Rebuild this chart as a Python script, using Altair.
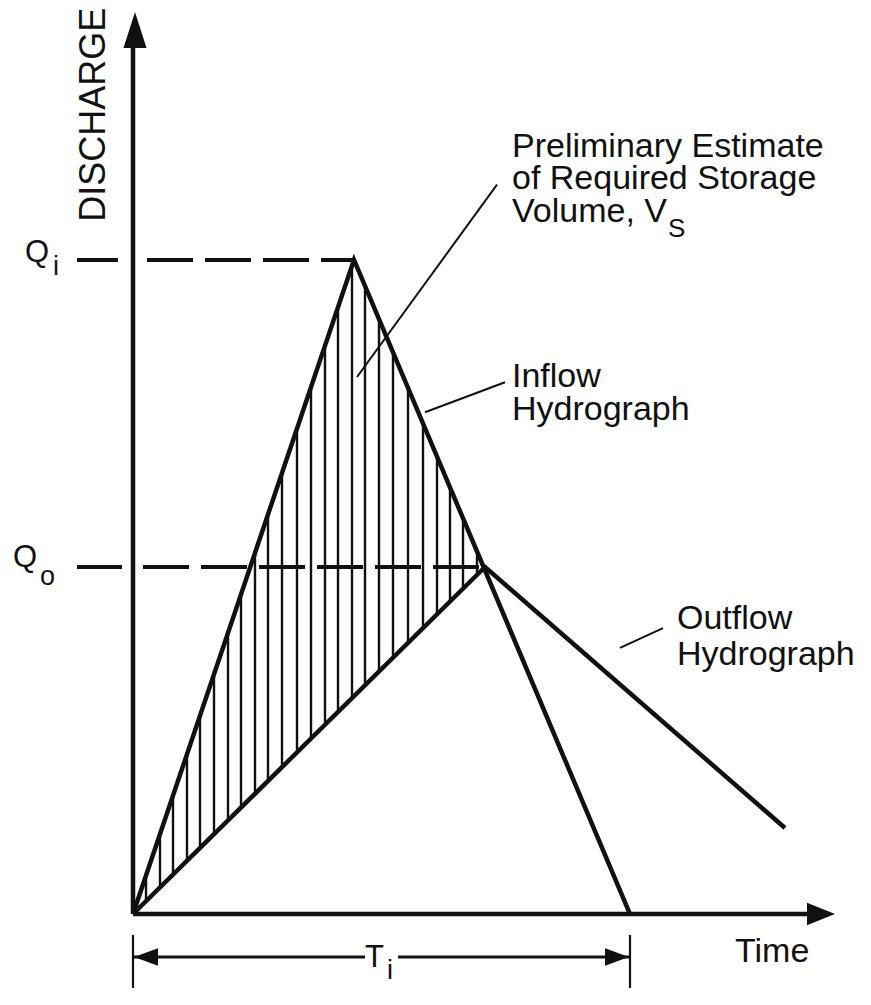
import altair as alt
import pandas as pd
import numpy as np

# ---------------- data (time units, discharge units) ----------------
inflow_t = [0.0, 4.42, 9.94]
inflow_q = [0.0, 100.0, 0.0]
outflow_t = [0.0, 7.04, 13.04]
outflow_q = [0.0, 53.05, 13.15]

QI = 100.0
QO = 53.05
TI = 9.94

hatch_t = [0.26, 0.54, 0.80, 1.08, 1.34, 1.62, 1.90, 2.16, 2.44, 2.70,
           2.98, 3.28, 3.56, 3.84, 4.10, 4.38, 4.64, 4.92, 5.20, 5.50,
           5.80, 6.08, 6.34, 6.60, 6.88]

# leader lines: start (t, q) -> end (t2, q2)
leader_t = [4.48, 5.84, 9.74]
leader_q = [82.1, 76.7, 40.7]
leader_t2 = [7.28, 7.44, 10.60]
leader_q2 = [111.5, 81.3, 43.7]

# annotation texts
label_text = ["Preliminary Estimate", "of Required Storage", "Volume, V",
              "Inflow", "Hydrograph", "Outflow", "Hydrograph", "Time"]
label_t = [7.58, 7.58, 7.58, 7.58, 7.58, 10.88, 10.88, 12.04]
label_q = [115.7, 110.8, 105.8, 80.6, 75.5, 43.6, 38.1, -7.34]

XD = [-2.5, 14.6]
YD = [-11.31, 138.51]


def X(f):
    return alt.X(f, type="quantitative", axis=None,
                 scale=alt.Scale(domain=XD, nice=False, zero=False))


def Y(f):
    return alt.Y(f, type="quantitative", axis=None,
                 scale=alt.Scale(domain=YD, nice=False, zero=False))


INK = "#111111"
FONT = "Liberation Sans"

# hydrographs
hyd = pd.DataFrame({
    "t": inflow_t + outflow_t,
    "q": inflow_q + outflow_q,
    "series": ["Inflow"] * 3 + ["Outflow"] * 3,
    "k": list(range(3)) + list(range(3)),
})
hyd_layer = alt.Chart(hyd).mark_line(color=INK, strokeWidth=4.5, strokeJoin="miter").encode(
    x=X("t"), y=Y("q"), detail="series:N", order="k:Q")

# hatching between the inflow and outflow curves
ht = np.array(hatch_t)
hatch = pd.DataFrame({
    "t": ht,
    "q1": np.interp(ht, outflow_t, outflow_q),
    "q2": np.interp(ht, inflow_t, inflow_q),
})
hatch_layer = alt.Chart(hatch).mark_rule(color=INK, strokeWidth=2.4).encode(
    x=X("t"), y=Y("q1"), y2="q2")

# axes
axes = pd.DataFrame({"t": [0.0, 0.0], "q": [0.0, 0.0],
                     "t2": [0.0, 13.54], "q2": [132.4, 0.0]})
axes_layer = alt.Chart(axes).mark_rule(color=INK, strokeWidth=4.5).encode(
    x=X("t"), y=Y("q"), x2="t2", y2="q2")

yarrow = alt.Chart(pd.DataFrame({"t": [0.04], "q": [135.15]})).mark_point(
    shape="M0,-1L0.64,1L-0.64,1Z", size=1296, filled=True, color=INK, opacity=1
).encode(x=X("t"), y=Y("q"))
xarrow = alt.Chart(pd.DataFrame({"t": [13.76], "q": [0.0]})).mark_point(
    shape="M0,-1L0.8,1L-0.8,1Z", size=784, filled=True, color=INK, opacity=1, angle=90
).encode(x=X("t"), y=Y("q"))

# dashed reference lines for Qi and Qo
dash_left = pd.DataFrame({"t": [-1.12, -1.12], "t2": [-0.30, -0.22], "q": [QI, QO]})
dash_left_layer = alt.Chart(dash_left).mark_rule(color=INK, strokeWidth=4).encode(
    x=X("t"), x2="t2", y=Y("q"))
dash_right = pd.DataFrame({"t": [0.28, 0.20], "t2": [inflow_t[1], outflow_t[1]], "q": [QI, QO]})
dash_right_layer = alt.Chart(dash_right).mark_rule(
    color=INK, strokeWidth=4, strokeDash=[46, 12]).encode(
    x=X("t"), x2="t2", y=Y("q"))

# leader lines
lead = pd.DataFrame({"t": leader_t, "q": leader_q, "t2": leader_t2, "q2": leader_q2})
lead_layer = alt.Chart(lead).mark_rule(color=INK, strokeWidth=2).encode(
    x=X("t"), y=Y("q"), x2="t2", y2="q2")

# T_i dimension
dim_q = -6.57
dim = pd.DataFrame({"t": [0.0, 5.30], "t2": [4.64, TI], "q": [dim_q, dim_q]})
dim_layer = alt.Chart(dim).mark_rule(color=INK, strokeWidth=3).encode(
    x=X("t"), x2="t2", y=Y("q"))
ext = pd.DataFrame({"t": [0.0, TI], "q": [-3.2, -3.2], "q2": [-11.3, -11.3]})
ext_layer = alt.Chart(ext).mark_rule(color=INK, strokeWidth=2.2).encode(
    x=X("t"), y=Y("q"), y2="q2")
dim_arrows = alt.Chart(pd.DataFrame({"t": [0.26, TI - 0.26], "q": [dim_q, dim_q],
                                     "a": [270, 90]})).mark_point(
    shape="M0,-1L0.72,1L-0.72,1Z", size=576, filled=True, color=INK, opacity=1
).encode(x=X("t"), y=Y("q"), angle=alt.Angle("a:Q", scale=None))

# texts
labels = pd.DataFrame({"t": label_t, "q": label_q, "txt": label_text})
label_layer = alt.Chart(labels).mark_text(
    align="left", baseline="alphabetic", font=FONT, fontSize=34, color=INK).encode(
    x=X("t"), y=Y("q"), text="txt:N")

subs = pd.DataFrame({"t": [10.70], "q": [103.5], "txt": ["S"]})
sub_layer = alt.Chart(subs).mark_text(
    align="left", baseline="alphabetic", font=FONT, fontSize=26, color=INK).encode(
    x=X("t"), y=Y("q"), text="txt:N")

qlab = pd.DataFrame({"t": [-2.16, -2.40, 4.64], "q": [99.7, 53.05, -8.1],
                     "txt": ["Q", "Q", "T"]})
q_layer = alt.Chart(qlab).mark_text(
    align="left", baseline="alphabetic", font=FONT, fontSize=31, color=INK).encode(
    x=X("t"), y=Y("q"), text="txt:N")
qsub = pd.DataFrame({"t": [-1.60, -1.86, 5.08], "q": [97.7, 50.3, -10.0],
                     "txt": ["i", "o", "i"]})
qsub_layer = alt.Chart(qsub).mark_text(
    align="left", baseline="alphabetic", font=FONT, fontSize=27, color=INK).encode(
    x=X("t"), y=Y("q"), text="txt:N")

ytitle = alt.Chart(pd.DataFrame({"t": [-0.78], "q": [122.2], "txt": ["DISCHARGE"]})).mark_text(
    align="center", baseline="middle", angle=270, font=FONT, fontSize=36, color=INK).encode(
    x=X("t"), y=Y("q"), text="txt:N")

chart = alt.layer(
    hatch_layer, dash_left_layer, dash_right_layer, hyd_layer, axes_layer,
    yarrow, xarrow, lead_layer, dim_layer, ext_layer, dim_arrows,
    label_layer, sub_layer, q_layer, qsub_layer, ytitle
).properties(
    width=855, height=980, padding=0,
    autosize=alt.AutoSizeParams(type="none"),
    background="white",
).configure_view(stroke="transparent")

chart.save("out.html", embed_options={"renderer": "svg", "actions": False})
